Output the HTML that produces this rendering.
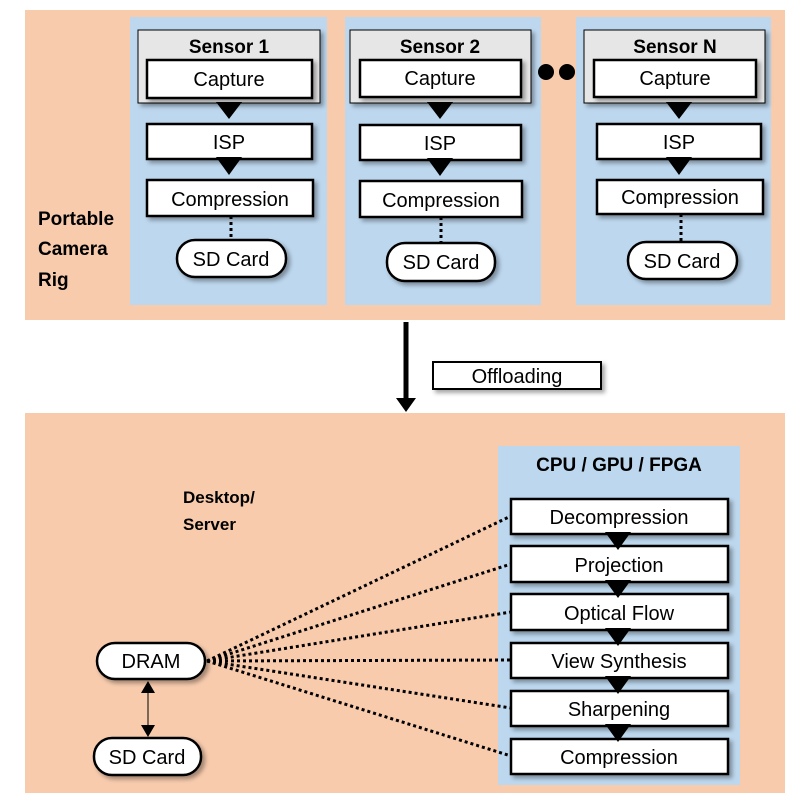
<!DOCTYPE html>
<html><head><meta charset="utf-8"><style>
html,body{margin:0;padding:0;background:#fff;}
svg{display:block;font-family:"Liberation Sans",sans-serif;}
</style></head><body>
<svg width="812" height="803" viewBox="0 0 812 803" xmlns="http://www.w3.org/2000/svg">
<defs>
<filter id="sh" x="-10%" y="-10%" width="130%" height="140%"><feDropShadow dx="3" dy="3" stdDeviation="2" flood-color="#000" flood-opacity="0.35"/></filter>
</defs>
<rect x="25" y="10" width="760" height="310" fill="#f8cbad"/>
<rect x="25" y="413" width="760" height="380" fill="#f8cbad"/>
<rect x="130" y="17" width="197" height="288" fill="#bdd7ee"/>
<rect x="345" y="17" width="196" height="288" fill="#bdd7ee"/>
<rect x="576" y="17" width="195" height="288" fill="#bdd7ee"/>
<rect x="498" y="446" width="242" height="339" fill="#bdd7ee"/>
<g font-weight="bold" font-size="19" fill="#000">
<text x="38" y="225">Portable</text><text x="38" y="255">Camera</text><text x="38" y="286">Rig</text>
<text x="183" y="503" font-size="17">Desktop/</text><text x="183" y="530" font-size="17">Server</text>
</g>
<circle cx="546" cy="72" r="8" fill="#000"/><circle cx="567" cy="72" r="8" fill="#000"/>
<g stroke="#000" stroke-width="2">
<rect x="138" y="30" width="182" height="73" fill="#e6e6e6" stroke-width="1" filter="url(#sh)"/>
<rect x="350" y="30" width="181" height="73" fill="#e6e6e6" stroke-width="1" filter="url(#sh)"/>
<rect x="584" y="30" width="181" height="73" fill="#e6e6e6" stroke-width="1" filter="url(#sh)"/>
</g>
<g font-weight="bold" font-size="19" text-anchor="middle">
<text x="229" y="53">Sensor 1</text><text x="440" y="53">Sensor 2</text><text x="675" y="53">Sensor N</text>
<text x="619" y="471">CPU / GPU / FPGA</text>
</g>
<g stroke="#000" stroke-width="2.5" fill="#fff" filter="url(#sh)">
<rect x="147" y="60" width="165" height="38"/><rect x="147" y="124" width="165" height="35"/><rect x="147" y="180" width="166" height="36"/>
<rect x="360" y="60" width="161" height="37"/><rect x="360" y="125" width="161" height="35"/><rect x="360" y="181" width="162" height="36"/>
<rect x="594" y="60" width="162" height="37"/><rect x="597" y="124" width="164" height="35"/><rect x="597" y="180" width="166" height="34"/>
<rect x="177" y="240" width="109" height="37" rx="18"/><rect x="387" y="243" width="108" height="38" rx="18"/><rect x="628" y="242" width="109" height="37" rx="18"/>
<rect x="433" y="362" width="168" height="27" stroke-width="2"/>
</g>
<g stroke="#000" stroke-width="2.5" fill="#fff" filter="url(#sh)">
<rect x="511" y="499" width="217" height="35"/><rect x="511" y="546" width="217" height="36"/><rect x="511" y="594" width="217" height="36"/>
<rect x="511" y="643" width="217" height="35"/><rect x="511" y="691" width="217" height="35"/><rect x="511" y="739" width="217" height="35"/>
<rect x="97" y="643" width="108" height="36" rx="18"/><rect x="94" y="738" width="107" height="37" rx="18"/>
</g>
<g fill="#000">
<path d="M216 102 L242 102 L229 119Z M216 157 L242 157 L229 175Z"/>
<path d="M427 102 L453 102 L440 119Z M427 158 L453 158 L440 176Z"/>
<path d="M666 102 L692 102 L679 119Z M666 157 L692 157 L679 175Z"/>
<path d="M605 532 L631 532 L618 550Z M605 580 L631 580 L618 598Z M605 628 L631 628 L618 646Z M605 676 L631 676 L618 694Z M605 724 L631 724 L618 742Z"/>
<path d="M396 398 L416 398 L406 412Z"/>
<path d="M141 693 L155 693 L148 681Z M141 725 L155 725 L148 737Z"/>
</g>
<line x1="406" y1="322" x2="406" y2="400" stroke="#000" stroke-width="5"/>
<line x1="148" y1="690" x2="148" y2="728" stroke="#000" stroke-width="1"/>
<g stroke="#000" stroke-width="3" stroke-dasharray="3,3" fill="none">
<line x1="231" y1="216" x2="231" y2="240"/><line x1="441" y1="217" x2="441" y2="243"/><line x1="681" y1="214" x2="681" y2="242"/>
<line x1="207" y1="661" x2="511" y2="516"/><line x1="207" y1="661" x2="511" y2="564"/><line x1="207" y1="661" x2="511" y2="612"/>
<line x1="207" y1="661" x2="511" y2="660"/><line x1="207" y1="661" x2="511" y2="708"/><line x1="207" y1="661" x2="511" y2="756"/>
</g>
<g font-size="20" text-anchor="middle" fill="#000">
<text x="229" y="86">Capture</text><text x="229" y="149">ISP</text><text x="230" y="206">Compression</text><text x="231" y="266">SD Card</text>
<text x="440" y="85">Capture</text><text x="440" y="150">ISP</text><text x="441" y="207">Compression</text><text x="441" y="269">SD Card</text>
<text x="675" y="85">Capture</text><text x="679" y="149">ISP</text><text x="680" y="204">Compression</text><text x="682" y="268">SD Card</text>
<text x="517" y="383">Offloading</text>
<text x="619" y="524">Decompression</text><text x="619" y="572">Projection</text><text x="619" y="620">Optical Flow</text>
<text x="619" y="668">View Synthesis</text><text x="619" y="716">Sharpening</text><text x="619" y="764">Compression</text>
<text x="151" y="668">DRAM</text><text x="147" y="764">SD Card</text>
</g>
</svg>
</body></html>
